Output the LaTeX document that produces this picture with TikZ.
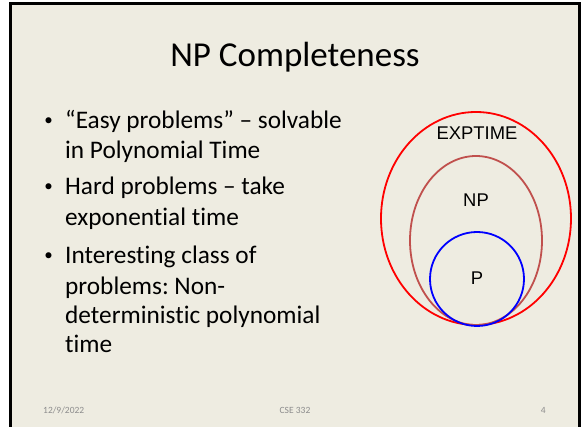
\documentclass[tikz,border=0pt]{standalone}
\usepackage{fontspec}
\setmainfont{Carlito}[Ligatures=NoCommon]
\newfontfamily\arialf{Liberation Sans}
\definecolor{slidebg}{HTML}{EEECE1}
\definecolor{footgray}{HTML}{8C8C8C}
\definecolor{npbrown}{HTML}{C0504D}
\frenchspacing
\begin{document}
\begin{tikzpicture}[x=1pt,y=-1pt,
  titletext/.style={anchor=base,inner sep=0pt,font=\fontsize{35}{42}\selectfont},
  bodytext/.style={anchor=base west,inner sep=0pt,font=\fontsize{25.3}{30}\selectfont},
  bullettext/.style={anchor=base,inner sep=0pt,font=\fontsize{17}{20}\selectfont},
  foottext/.style={inner sep=0pt,text=footgray,font=\fontsize{9.5}{11}\selectfont},
  setlabel/.style={anchor=base,inner sep=0pt,font=\arialf\fontsize{18.4}{22}\selectfont},
  setline/.style={line width=1.8pt}]
\useasboundingbox (0,0) rectangle (582,427);
\clip (0,0) rectangle (582,427);
\fill[white] (0,0) rectangle (582,427);
\filldraw[fill=slidebg,draw=black,line width=3pt] (10.5,3.5) rectangle (579.5,440);
% title
\node[titletext] (title) at (295,67) {NP Completeness};
% bullets
\node[bullettext] (b1) at (48.5,126) {•};
\node[bodytext] (l1) at (65,129) {“Easy problems” – solvable};
\node[bodytext] (l2) at (65,159) {in Polynomial Time};
\node[bullettext] (b2) at (48.5,192) {•};
\node[bodytext] (l3) at (65,195) {Hard problems – take};
\node[bodytext] (l4) at (65,226) {exponential time};
\node[bullettext] (b3) at (48.5,261) {•};
\node[bodytext] (l5) at (65,264) {Interesting class of};
\node[bodytext] (l6) at (65,295) {problems: Non-};
\node[bodytext] (l7) at (65,324) {deterministic polynomial};
\node[bodytext] (l8) at (65,353) {time};
% sets
\draw[setline,red] (476,218.5) ellipse [x radius=95pt, y radius=106.5pt];
\draw[setline,npbrown] (476,240.5) ellipse [x radius=66pt, y radius=84.5pt];
\draw[setline,blue] (477,279) circle [radius=47pt];
\node[setlabel] (exp) at (477,140) {EXPTIME};
\node[setlabel] (np) at (476,207) {NP};
\node[setlabel] (p) at (477,285) {P};
% footer
\node[foottext,anchor=base west] (date) at (43,414) {12/9/2022};
\node[foottext,anchor=base] (course) at (295,414) {CSE 332};
\node[foottext,anchor=base east] (page) at (546,414) {4};
\end{tikzpicture}
\end{document}
